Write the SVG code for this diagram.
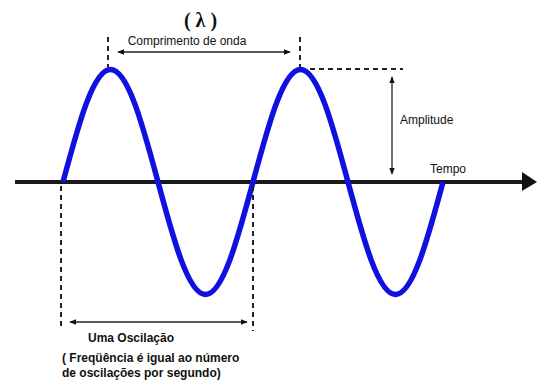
<svg xmlns="http://www.w3.org/2000/svg" width="537" height="383" viewBox="0 0 537 383">
<style>
.lbl{font-family:"Liberation Sans",Arial,sans-serif;font-size:12px;fill:#111}
.b{font-weight:bold}
.dash{stroke:#222;stroke-width:2;stroke-dasharray:5,4;fill:none}
.arr{stroke:#222;stroke-width:1.3;fill:none;marker-start:url(#ah);marker-end:url(#ah)}
</style>
<defs>
<marker id="ah" viewBox="0 0 10 10" refX="9" refY="5" markerWidth="7" markerHeight="7" markerUnits="userSpaceOnUse" orient="auto-start-reverse">
<path d="M0,1 L10,5 L0,9 Z" fill="#111"/>
</marker>
</defs>
<rect width="537" height="383" fill="#fff"/>
<g id="axis">
<line x1="15" y1="182" x2="526" y2="182" stroke="#1a1a1a" stroke-width="4"/>
<polygon points="522,172 537,182 522,191" fill="#111"/>
<text class="lbl" x="430" y="173">Tempo</text>
</g>
<g id="wave">
<path d="M63,182 C78.5,124.4 93.2,69.5 110.5,69.5 S142.5,124.4 158,182 S188.3,294.5 205.5,294.5 S237.5,239.6 253,182 S283.3,69.5 300.5,69.5 S332.5,124.4 348,182 S378.3,294.5 395.5,294.5 S427.5,239.6 443,182" fill="none" stroke="#1010e0" stroke-width="5.5" stroke-linejoin="round"/>
</g>
<g id="connectors">
<line class="dash" x1="108" y1="37" x2="108" y2="67"/>
<line class="dash" x1="300" y1="37" x2="300" y2="67"/>
<line class="arr" x1="118" y1="52" x2="290" y2="52"/>
<line class="dash" x1="310" y1="69" x2="403" y2="69"/>
<line class="arr" x1="392" y1="77" x2="392" y2="174"/>
<line class="dash" x1="61" y1="186" x2="61" y2="330"/>
<line class="dash" x1="253" y1="186" x2="253" y2="331"/>
<line class="arr" x1="70" y1="322" x2="247" y2="322"/>
</g>
<g id="wavelength">
<text x="203" y="27" text-anchor="middle" font-family="'Liberation Serif','Times New Roman',serif" font-size="20" font-weight="bold" letter-spacing="5" fill="#111">(λ)</text>
<text class="lbl" x="187" y="45" text-anchor="middle">Comprimento de onda</text>
</g>
<g id="amplitude">
<text class="lbl" x="400" y="124">Amplitude</text>
</g>
<g id="oscillation">
<text class="lbl b" x="88" y="342">Uma Oscilação</text>
<text class="lbl b" x="62" y="362">( Freqüência é igual ao número</text>
<text class="lbl b" x="62" y="377">de oscilações por segundo)</text>
</g>
</svg>
